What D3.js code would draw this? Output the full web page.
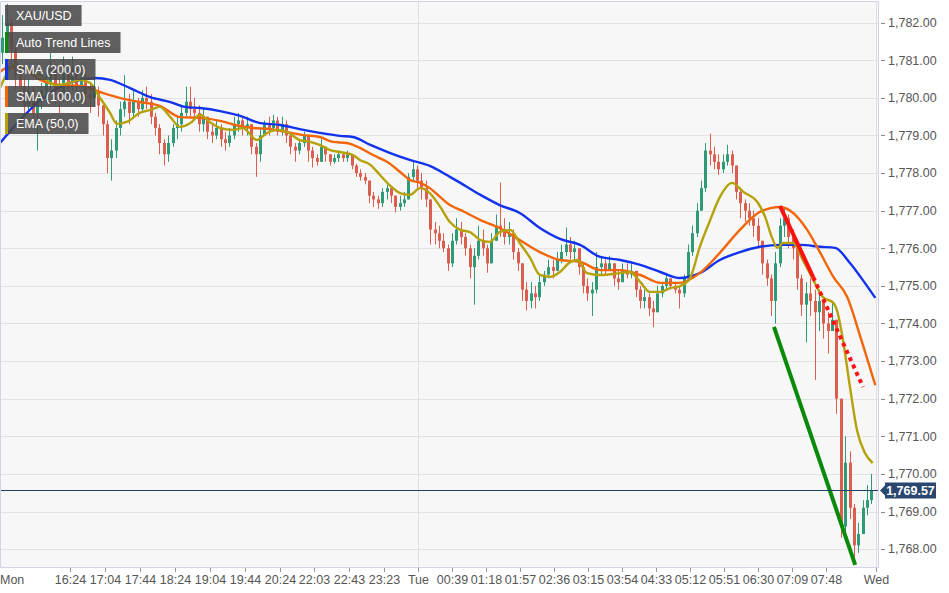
<!DOCTYPE html>
<html><head><meta charset="utf-8">
<script src="https://cdn.jsdelivr.net/npm/d3@7/dist/d3.min.js"></script>
<style>
body{margin:0;background:#fff;}
svg{display:block;font-family:"Liberation Sans",Arial,sans-serif;}
</style>
</head><body>
<svg id="chart" width="949" height="593"></svg>
<script>
// ---------- DATA ----------
const symbol = "XAU/USD";
const barsPerCandle = 5;          // each drawn candle covers 5 one-minute bars
const firstOpen = 1781.2;
const closes = [
1781.6,1782.0,1781.3,1780.6,1780.3,1779.8,1780.2,1779.6,1779.9,1780.2,
1780.4,1780.8,1780.2,1780.0,1780.7,1780.4,1780.8,1780.3,1780.6,1780.1,
1780.0,1780.2,1779.8,1779.3,1778.4,1778.6,1779.2,1779.7,1779.9,1779.6,
1779.9,1779.7,1780.0,1779.9,1779.5,1779.2,1778.8,1778.5,1778.8,1779.2,
1779.3,1779.6,1779.9,1779.7,1779.6,1779.3,1779.5,1779.1,1779.0,1779.2,
1778.9,1778.8,1779.0,1779.3,1779.4,1779.2,1779.3,1778.7,1778.5,1779.0,
1779.3,1779.2,1779.4,1779.1,1779.3,1779.0,1778.7,1778.6,1778.8,1779.0,
1778.6,1778.4,1778.3,1778.7,1778.5,1778.3,1778.4,1778.5,1778.4,1778.5,
1778.2,1778.0,1777.9,1777.8,1777.4,1777.3,1777.2,1777.5,1777.6,1777.4,
1777.1,1777.2,1777.3,1777.9,1778.1,1777.8,1777.6,1777.3,1776.5,1776.4,
1776.2,1776.0,1775.6,1776.2,1776.5,1776.3,1776.0,1775.5,1775.8,1776.2,
1776.0,1775.6,1776.2,1776.6,1776.5,1776.3,1776.4,1775.9,1775.6,1774.9,
1774.6,1774.8,1774.7,1775.1,1775.3,1775.5,1775.4,1775.7,1775.9,1776.1,
1775.9,1776.0,1775.5,1775.0,1774.8,1774.9,1775.5,1775.6,1775.4,1775.6,
1775.2,1775.1,1775.4,1775.3,1775.4,1774.9,1774.6,1774.7,1774.4,1774.3,
1774.8,1775.0,1775.2,1775.0,1774.9,1774.8,1775.2,1775.9,1776.4,1777.0,
1777.6,1778.6,1778.5,1778.3,1778.1,1778.3,1778.5,1778.2,1777.5,1777.2,
1777.0,1776.8,1776.6,1776.2,1775.6,1775.2,1774.6,1775.6,1776.6,1776.8,
1776.3,1776.0,1775.2,1774.5,1774.8,1774.6,1774.3,1774.6,1774.0,1773.8,
1774.1,1772.0,1768.6,1770.3,1769.1,1768.1,1768.4,1769.1,1769.3,1769.57];
const highs = [
1782.2,1782.5,1782.1,1781.4,1780.9,1780.6,1780.5,1780.3,1780.1,1780.4,
1780.7,1781.2,1780.9,1780.5,1781.1,1781.0,1781.1,1780.9,1780.9,1780.7,
1780.4,1780.5,1780.3,1779.9,1779.4,1778.9,1779.4,1779.9,1780.6,1780.1,
1780.2,1780.0,1780.2,1780.3,1780.1,1779.6,1779.3,1778.9,1779.0,1779.3,
1779.5,1779.8,1780.3,1780.3,1780.0,1779.8,1779.7,1779.5,1779.3,1779.4,
1779.3,1779.1,1779.2,1779.5,1779.6,1779.5,1779.5,1779.3,1778.8,1779.2,
1779.4,1779.5,1779.55,1779.5,1779.5,1779.4,1779.1,1778.8,1778.9,1779.1,
1778.9,1778.7,1778.5,1778.9,1778.7,1778.5,1778.5,1778.6,1778.55,1778.6,
1778.4,1778.25,1778.1,1778.0,1777.8,1777.5,1777.4,1777.6,1777.7,1777.6,
1777.3,1777.4,1777.5,1778.0,1778.35,1778.2,1778.0,1777.8,1777.3,1776.7,
1776.6,1776.4,1776.1,1776.4,1776.8,1776.7,1776.4,1776.1,1776.0,1776.6,
1776.5,1776.1,1776.4,1776.9,1777.75,1776.8,1776.7,1776.5,1776.0,1775.6,
1775.1,1775.1,1775.0,1775.3,1775.4,1775.7,1775.7,1775.9,1776.1,1776.55,
1776.3,1776.2,1776.0,1775.6,1775.2,1775.1,1775.9,1775.8,1775.7,1775.8,
1775.6,1775.4,1775.6,1775.6,1775.6,1775.4,1775.0,1774.9,1774.8,1774.6,
1775.0,1775.1,1775.35,1775.2,1775.1,1775.0,1775.3,1776.1,1776.6,1777.2,
1777.8,1778.8,1779.05,1778.7,1778.5,1778.5,1778.75,1778.6,1778.2,1777.6,
1777.3,1777.2,1777.0,1776.8,1776.2,1775.7,1775.3,1775.9,1776.8,1777.1,
1776.9,1776.5,1776.1,1775.3,1775.1,1775.2,1774.9,1774.9,1774.6,1774.3,
1774.6,1774.0,1772.0,1771.0,1770.6,1769.2,1768.7,1769.3,1769.7,1770.0];
const lows = [
1780.9,1781.3,1780.9,1780.2,1779.9,1779.5,1779.6,1779.3,1778.6,1779.7,
1779.9,1780.2,1779.8,1779.6,1779.9,1780.0,1780.2,1779.9,1780.0,1779.8,
1779.6,1779.8,1779.5,1779.0,1778.0,1777.8,1778.4,1779.0,1779.5,1779.3,
1779.5,1779.5,1779.6,1779.7,1779.3,1779.0,1778.5,1778.2,1778.3,1778.7,
1778.9,1779.1,1779.5,1779.5,1779.4,1779.1,1779.1,1778.9,1778.8,1778.9,
1778.7,1778.6,1778.7,1778.9,1779.1,1779.0,1779.0,1778.5,1777.9,1778.3,
1779.0,1779.0,1779.1,1779.0,1779.0,1778.8,1778.5,1778.3,1778.5,1778.7,
1778.3,1778.15,1778.2,1778.3,1778.3,1778.2,1778.25,1778.3,1778.3,1778.3,
1778.1,1777.9,1777.8,1777.7,1777.2,1777.1,1777.05,1777.1,1777.3,1777.2,
1776.95,1777.0,1777.1,1777.3,1777.8,1777.6,1777.3,1777.1,1776.1,1776.1,
1776.0,1775.9,1775.4,1775.5,1776.1,1776.1,1775.8,1775.2,1774.5,1775.7,
1775.8,1775.35,1775.6,1776.2,1776.3,1776.1,1776.1,1775.7,1775.4,1774.6,
1774.35,1774.4,1774.4,1774.6,1775.0,1775.2,1775.2,1775.4,1775.6,1775.8,
1775.7,1775.7,1775.3,1774.8,1774.6,1774.2,1774.8,1775.3,1775.3,1775.4,
1775.0,1774.9,1775.1,1775.2,1775.2,1774.7,1774.4,1774.4,1774.2,1773.9,
1774.3,1774.7,1774.9,1774.9,1774.8,1774.4,1774.7,1775.1,1775.8,1776.3,
1777.0,1777.5,1778.2,1778.1,1777.95,1778.0,1778.2,1778.0,1777.3,1776.8,
1776.7,1776.6,1776.3,1776.0,1775.3,1775.0,1774.2,1774.0,1775.5,1776.3,
1776.0,1775.7,1774.9,1774.2,1773.5,1774.2,1772.5,1773.8,1773.6,1773.2,
1773.8,1771.6,1768.3,1768.2,1768.8,1767.6,1767.9,1768.5,1768.9,1769.2];

// moving averages: bar index (one-minute bars) and value
const sma200Bars = [0,23,46,69,92,109,126,149,172,195,212,229,252,275,298,321,343,366,389,404,424,446,469,492,515,527,550,572,595,618,641,664,687,710,733,756,778,801,824,847,870,893,916,939,956,973,990,1002];
const sma200Vals = [1778.80,1779.41,1779.94,1780.29,1780.48,1780.53,1780.48,1780.26,1780.02,1779.89,1779.76,1779.73,1779.65,1779.52,1779.33,1779.28,1779.17,1779.07,1778.99,1778.96,1778.75,1778.54,1778.35,1778.19,1777.90,1777.74,1777.42,1777.15,1776.94,1776.54,1776.25,1776.09,1775.77,1775.69,1775.56,1775.37,1775.21,1775.34,1775.69,1775.90,1776.04,1776.09,1776.09,1776.04,1776.01,1775.61,1775.08,1774.68];
const sma100Bars = [0,11,23,46,69,92,114,137,160,183,206,229,252,269,290,309,329,347,366,381,397,412,427,443,458,469,481,492,504,515,527,550,572,595,618,641,664,687,710,733,756,778,801,824,847,870,893,908,924,939,954,970,985,1002];
const sma100Vals = [1780.69,1780.82,1780.82,1780.48,1780.34,1780.32,1780.16,1780.00,1779.89,1779.79,1779.49,1779.47,1779.39,1779.28,1779.20,1779.17,1779.09,1779.01,1778.96,1778.83,1778.80,1778.67,1778.48,1778.30,1778.03,1777.82,1777.74,1777.60,1777.36,1777.15,1777.02,1776.75,1776.54,1776.22,1775.90,1775.69,1775.64,1775.42,1775.42,1775.29,1775.08,1775.08,1775.34,1775.88,1776.49,1776.97,1777.10,1776.94,1776.49,1775.88,1775.24,1774.70,1773.64,1772.36];
const ema50Bars = [0,9,17,29,46,63,80,92,103,114,126,134,145,160,172,183,195,206,218,229,240,252,267,278,294,306,317,329,343,355,366,378,389,404,412,424,435,446,458,469,481,492,504,515,527,538,550,561,572,584,595,607,618,630,641,653,661,672,687,710,721,733,744,756,767,778,790,801,813,824,838,851,867,876,884,890,896,908,919,931,942,954,959,965,973,981,990,999];
const ema50Vals = [1780.26,1780.69,1780.88,1780.80,1780.61,1780.34,1780.40,1780.48,1780.40,1780.02,1779.60,1779.31,1779.36,1779.60,1779.68,1779.76,1779.49,1779.23,1779.33,1779.55,1779.36,1779.20,1779.15,1779.20,1778.88,1779.07,1779.15,1779.09,1778.88,1778.83,1778.75,1778.61,1778.56,1778.48,1778.35,1778.22,1777.95,1777.68,1777.47,1777.42,1777.60,1777.47,1777.10,1776.70,1776.49,1776.43,1776.22,1776.17,1776.43,1776.49,1776.14,1775.74,1775.29,1775.24,1775.37,1775.64,1775.69,1775.34,1775.29,1775.34,1775.37,1775.10,1774.84,1774.84,1774.94,1774.99,1775.21,1776.03,1776.75,1777.36,1777.74,1777.50,1777.23,1776.83,1776.27,1776.01,1776.14,1776.14,1775.69,1775.16,1774.70,1774.55,1774.28,1773.56,1772.31,1771.17,1770.56,1770.29];

// auto trend lines (bar index, price)
const trendRedBars = [893,931];   const trendRedVals = [1777.12,1775.23];
const trendRedExtBars = [931,988]; const trendRedExtVals = [1775.23,1772.31];
const trendGreenBars = [886,979]; const trendGreenVals = [1773.91,1767.58];

const lastPrice = 1769.57;
const yTicks = [1768,1769,1770,1771,1772,1773,1774,1775,1776,1777,1778,1779,1780,1781,1782];
const xTickBars = [0,80,120,160,200,240,280,320,360,400,440,478,517,556,595,634,673,712,751,790,829,868,907,946,1003];
const xTickLabels = ["Mon","16:24","17:04","17:44","18:24","19:04","19:44","20:24","22:03","22:43","23:23","Tue","00:39","01:18","01:57","02:36","03:15","03:54","04:33","05:12","05:51","06:30","07:09","07:48","Wed"];
const daySeparators = [478,1003];
const legendItems = [
  {label:"XAU/USD", color:null},
  {label:"Auto Trend Lines", color:"#0a8a0a"},
  {label:"SMA (200,0)", color:"#1133ee"},
  {label:"SMA (100,0)", color:"#f2660a"},
  {label:"EMA (50,0)", color:"#b5a20a"}
];

// ---------- CHART ----------
const W = 949, H = 593;
const plot = {left:0, top:1, right:878, bottom:567};
const svg = d3.select("#chart");

const x = d3.scaleLinear().domain([0, 1005.1]).range([plot.left, plot.right]);
const y = d3.scaleLinear().domain([1767.524, 1782.577]).range([plot.bottom, plot.top]);

svg.append("rect").attr("width",W).attr("height",H).attr("fill","#fff");
svg.append("rect").attr("x",plot.left).attr("y",plot.top)
  .attr("width",plot.right-plot.left).attr("height",plot.bottom-plot.top)
  .attr("fill","#f7f7f7");

svg.append("defs").append("clipPath").attr("id","clip")
  .append("rect").attr("x",plot.left).attr("y",plot.top)
  .attr("width",plot.right-plot.left).attr("height",plot.bottom-plot.top);

// grid
const grid = svg.append("g");
grid.selectAll("line.h").data(yTicks).join("line")
  .attr("x1",plot.left).attr("x2",plot.right)
  .attr("y1",d=>Math.round(y(d))+0.5).attr("y2",d=>Math.round(y(d))+0.5)
  .attr("stroke","#e3e3e3").attr("stroke-width",1);
grid.selectAll("line.v").data(daySeparators).join("line")
  .attr("y1",plot.top).attr("y2",plot.bottom)
  .attr("x1",d=>Math.round(x(d))+0.5).attr("x2",d=>Math.round(x(d))+0.5)
  .attr("stroke","#e0e0e0").attr("stroke-width",1);

// candles
const candles = closes.map((c,i)=>{
  const o = i===0 ? firstOpen : closes[i-1];
  return {bar:i*barsPerCandle + barsPerCandle/2, o, c,
          h:Math.max(highs[i],o,c), l:Math.min(lows[i],o,c)};
});
const colorOf = d => d.c>d.o ? "#2f9a78" : (d.c<d.o ? "#dc5e4f" : "#111");
const cg = svg.append("g").attr("clip-path","url(#clip)");
cg.selectAll("line.wick").data(candles).join("line")
  .attr("x1",d=>Math.round(x(d.bar))+0.5).attr("x2",d=>Math.round(x(d.bar))+0.5)
  .attr("y1",d=>y(d.h)).attr("y2",d=>y(d.l))
  .attr("stroke",colorOf).attr("stroke-width",1);
cg.selectAll("rect.body").data(candles).join("rect")
  .attr("x",d=>Math.round(x(d.bar))-1).attr("width",3)
  .attr("y",d=>y(Math.max(d.o,d.c)))
  .attr("height",d=>Math.max(1, Math.abs(y(d.o)-y(d.c))))
  .attr("fill",colorOf);

// moving averages
const line = d3.line().x(d=>x(d[0])).y(d=>y(d[1])).curve(d3.curveMonotoneX);
const maLayer = svg.append("g").attr("clip-path","url(#clip)").attr("fill","none");
maLayer.append("path").datum(d3.zip(sma200Bars,sma200Vals)).attr("d",line)
  .attr("stroke","#1133ee").attr("stroke-width",2.4);
maLayer.append("path").datum(d3.zip(sma100Bars,sma100Vals)).attr("d",line)
  .attr("stroke","#f2660a").attr("stroke-width",2.4);
maLayer.append("path").datum(d3.zip(ema50Bars,ema50Vals)).attr("d",line)
  .attr("stroke","#b5a20a").attr("stroke-width",2.4);

// trend lines
const straight = d3.line().x(d=>x(d[0])).y(d=>y(d[1]));
maLayer.append("path").datum(d3.zip(trendRedBars,trendRedVals)).attr("d",straight)
  .attr("stroke","#ff1010").attr("stroke-width",4);
maLayer.append("path").datum(d3.zip(trendRedExtBars,trendRedExtVals)).attr("d",straight)
  .attr("stroke","#ff1010").attr("stroke-width",4).attr("stroke-dasharray","4,4");
maLayer.append("path").datum(d3.zip(trendGreenBars,trendGreenVals)).attr("d",straight)
  .attr("stroke","#0a8a0a").attr("stroke-width",4);

// last price line
svg.append("line").attr("x1",plot.left).attr("x2",plot.right)
  .attr("y1",Math.round(y(lastPrice))+0.5).attr("y2",Math.round(y(lastPrice))+0.5)
  .attr("stroke","#223f66").attr("stroke-width",1);

// plot border
svg.append("path")
  .attr("d",`M${plot.left+0.5},${plot.top+0.5}H${plot.right+0.5}V${plot.bottom+0.5}H${plot.left+0.5}Z`)
  .attr("fill","none").attr("stroke","#cfd4ea");

// y axis
const fmt = d3.format(",.2f");
const ya = svg.append("g").attr("transform",`translate(${plot.right+1},0)`);
ya.selectAll("line").data(yTicks).join("line")
  .attr("x1",2).attr("x2",6)
  .attr("y1",d=>Math.round(y(d))+0.5).attr("y2",d=>Math.round(y(d))+0.5)
  .attr("stroke","#888");
ya.selectAll("text").data(yTicks).join("text")
  .attr("x",9).attr("y",d=>y(d)).attr("dy","0.35em")
  .attr("font-size",12.5).attr("fill","#555").text(fmt);

// last price tag
const ly = Math.round(y(lastPrice))+0.5;
const tag = svg.append("g").attr("transform",`translate(${plot.right+2},${ly})`);
tag.append("path").attr("d","M0,0 L5,-5 L5,-8 L56,-8 L56,8 L5,8 L5,5 Z").attr("fill","#2a4770");
tag.append("text").attr("x",30.5).attr("y",0).attr("dy","0.36em").attr("text-anchor","middle")
  .attr("font-size",12.5).attr("font-weight","bold").attr("fill","#fff").text(fmt(lastPrice));

// x axis
const xa = svg.append("g");
xTickBars.forEach((b,i)=>{
  const px = Math.round(x(b))+0.5;
  if (i>0) xa.append("line").attr("x1",px).attr("x2",px)
      .attr("y1",plot.bottom+1).attr("y2",plot.bottom+5).attr("stroke","#999");
  xa.append("text").attr("x", i===0 ? 0 : px).attr("y",584)
    .attr("text-anchor", i===0 ? "start" : "middle")
    .attr("font-size",12.5).attr("fill","#555").text(xTickLabels[i]);
});

// legend
const lg = svg.append("g");
const itemTop = [5,32,59,86,113];
legendItems.forEach((it,i)=>{
  const g = lg.append("g").attr("transform",`translate(5,${itemTop[i]})`);
  const t = g.append("text").attr("x",11).attr("y",11).attr("dy","0.35em")
    .attr("font-size",12.5).attr("fill","#fff").text(it.label);
  const w = t.node().getComputedTextLength() + 21;
  g.insert("rect","text").attr("width",w).attr("height",21)
    .attr("fill","#4a4a4a").attr("fill-opacity",0.88);
  if (it.color) g.insert("rect","text").attr("width",3).attr("height",21).attr("fill",it.color);
});
</script>
</body></html>
